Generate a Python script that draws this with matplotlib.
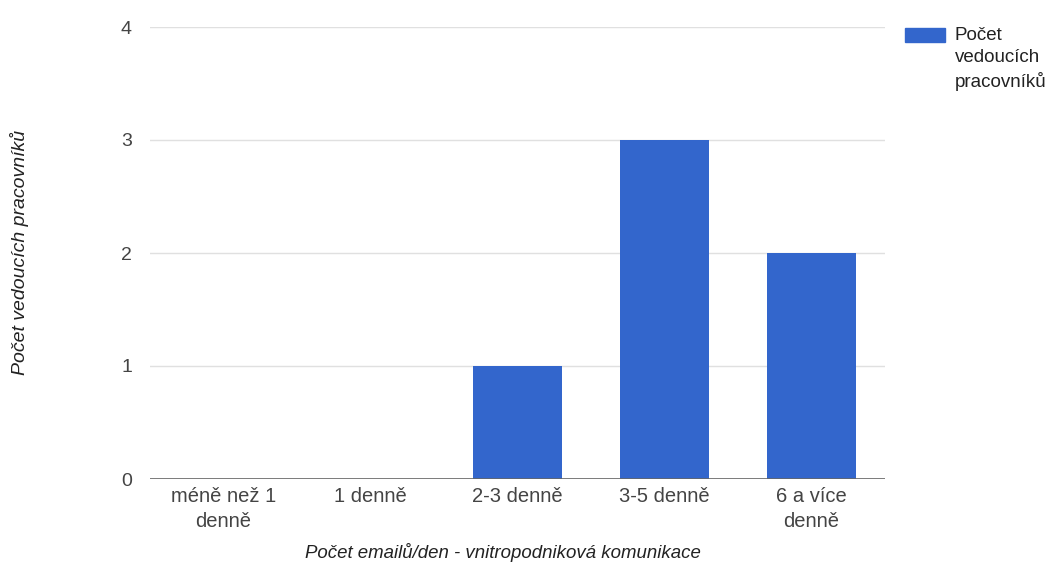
import matplotlib.pyplot as plt
import numpy as np

# data
kategorie = ["méně než 1\ndenně", "1 denně", "2-3 denně", "3-5 denně", "6 a více\ndenně"]
pocty = [0, 0, 1, 3, 2]
yticks = [0, 1, 2, 3, 4]

plt.rcParams['font.family'] = ['Liberation Sans', 'DejaVu Sans']

W, H = 1057, 588
fig = plt.figure(figsize=(W / 100, H / 100), dpi=100)
ax = fig.add_axes([150/W, 1 - 479/H, 735/W, 452/H])

x = np.arange(len(kategorie))
ax.bar(x, pocty, width=0.6, color='#3366cc', zorder=3)

ax.set_xlim(-0.5, len(kategorie) - 0.5)
ax.set_ylim(0, 4)
ax.set_yticks(yticks)
ax.set_xticks(x)
ax.set_xticklabels(kategorie, fontsize=14.5, color='#444444', linespacing=1.35)
ax.tick_params(axis='y', labelsize=14, labelcolor='#444444', length=0, pad=13)
ax.tick_params(axis='x', length=0, pad=6)

ax.grid(axis='y', color='#e0e0e0', linewidth=1, zorder=0)
ax.axhline(0, color='#666666', linewidth=1.2, zorder=4)
for s in ax.spines.values():
    s.set_visible(False)

# popisky os
fig.text(20/W, 1 - 252/H, "Počet vedoucích pracovníků", fontsize=14, style='italic',
         color='#222222', rotation=90, ha='center', va='center')
fig.text(503/W, 1 - 552/H, "Počet emailů/den - vnitropodniková komunikace", fontsize=13.4,
         style='italic', color='#222222', ha='center', va='center')

# legenda vpravo nahore
fig.patches.append(plt.Rectangle((905/W, 1 - 42/H), 40/W, 14/H,
                                 transform=fig.transFigure, color='#3366cc'))
fig.text(955/W, 1 - 27/H, "Počet\nvedoucích\npracovníků", fontsize=13.5, color='#222222',
         va='top', ha='left', linespacing=1.38)

fig.savefig("out.png", dpi=100, facecolor='white')
